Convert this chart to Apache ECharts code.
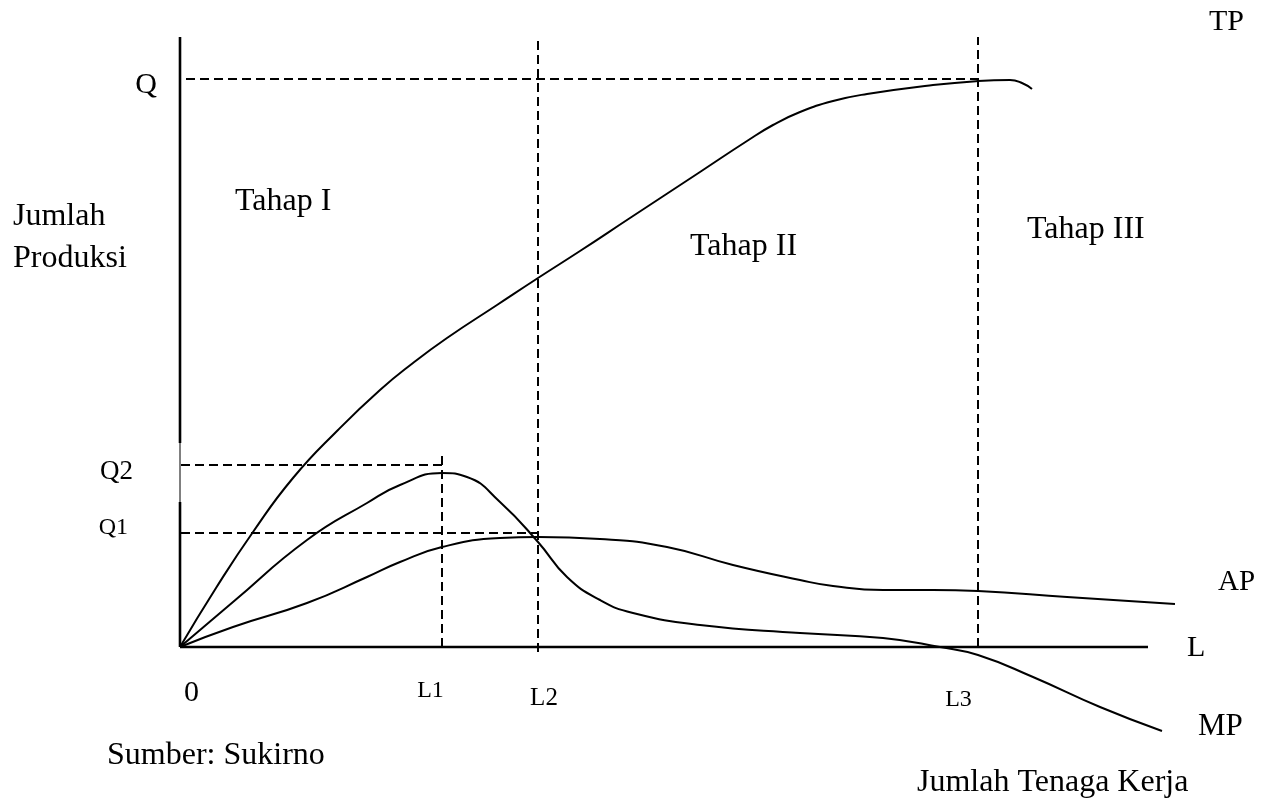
<!DOCTYPE html>
<html><head><meta charset="utf-8">
<script src="https://cdn.jsdelivr.net/npm/echarts@6/dist/echarts.min.js"></script>
<style>html,body{margin:0;padding:0;background:#fff}#c{width:1270px;height:802px}</style>
</head><body><div id="c"></div>
<script>
// ---- key levels (labour units on x, output units on y) ----
const L1 = 26.2, L2 = 35.8, L3 = 79.8;
const Q = 56.8, Q2 = 18.2, Q1 = 11.4;
const xAxisEnd = 96.8, yAxisTop = 61.0;

// ---- curves ----
const tpCurve = [[0,0],[3.6,5.9],[7.3,11.5],[11.3,16.9],[15.8,21.7],[20.0,25.7],[23.3,28.4],[26.7,30.9],[31.7,34.2],[35.8,36.9],[40.0,39.6],[45.0,42.9],[52.0,47.5],[56.7,50.6],[59.3,52.2],[62.0,53.5],[65.3,54.6],[68.7,55.3],[75.3,56.2],[79.8,56.6],[83.0,56.7],[84.2,56.4],[85.2,55.8]];
const mpCurve = [[0,0],[5.3,4.5],[12.7,10.7],[18.7,14.4],[22.0,16.2],[26.2,17.4],[28.7,17.0],[32.0,14.5],[35.8,10.5],[38.7,7.0],[42.0,4.7],[45.3,3.4],[52.0,2.2],[62.0,1.4],[70.3,0.9],[76.0,0],[79.8,-0.8],[85.3,-3.0],[92.0,-6.0],[98.2,-8.4]];
const apCurve = [[0,0],[5.3,2.0],[12.7,4.4],[18.7,7.0],[22.0,8.5],[26.2,10.0],[32.0,10.9],[35.8,11.0],[42.0,10.8],[48.7,10.0],[55.3,8.2],[62.0,6.7],[65.3,6.1],[70.3,5.7],[75.3,5.7],[79.8,5.6],[88.7,5.0],[99.5,4.3]];

// ---- tick labels ----
const yTickLabels = ['Q', 'Q2', 'Q1'];
const yTickValues = [Q, Q2, Q1];
const xTickLabels = ['0', 'L1', 'L2', 'L3'];
const xTickValues = [0, L1, L2, L3];

// ---- other texts ----
const curveNames = ['TP', 'AP', 'MP', 'L'];
const stageNames = ['Tahap I', 'Tahap II', 'Tahap III'];
const yTitle = ['Jumlah', 'Produksi'];
const xTitle = 'Jumlah Tenaga Kerja';
const sourceNote = 'Sumber: Sukirno';

// ---- build ----
const FONT = '"Liberation Serif","Times New Roman",serif';
const chart = echarts.init(document.getElementById('c'), null, {renderer: 'canvas'});

const dash = [9, 5];
function lineSeries(data, opts) {
  return Object.assign({
    type: 'line', data: data, symbol: 'none', showSymbol: false, clip: false,
    silent: true, animation: false, z: 3,
    lineStyle: {color: '#000', width: 2}
  }, opts || {});
}

const xAxisLine = [[0, 0], [xAxisEnd, 0]];
const yAxisLow = [[0, 0], [0, 14.5]];
const yAxisThin = [[0, 14.5], [0, 20.4]];
const yAxisHigh = [[0, 20.4], [0, yAxisTop]];

const series = [
  lineSeries(xAxisLine, {lineStyle: {color: '#000', width: 2.6}}),
  lineSeries(yAxisLow, {lineStyle: {color: '#000', width: 2.6}}),
  lineSeries(yAxisThin, {lineStyle: {color: '#000', width: 1}}),
  lineSeries(yAxisHigh, {lineStyle: {color: '#000', width: 2.6}}),
  lineSeries([[0.6, Q], [L3, Q]], {lineStyle: {color: '#000', width: 2, type: dash}}),
  lineSeries([[0.1, Q2], [L1, Q2]], {lineStyle: {color: '#000', width: 2, type: dash}}),
  lineSeries([[0.1, Q1], [L2, Q1]], {lineStyle: {color: '#000', width: 2, type: dash}}),
  lineSeries([[L1, 0], [L1, 19.2]], {lineStyle: {color: '#000', width: 2, type: dash}}),
  lineSeries([[L2, -0.5], [L2, 60.7]], {lineStyle: {color: '#000', width: 2, type: dash}}),
  lineSeries([[L3, 0], [L3, yAxisTop]], {lineStyle: {color: '#000', width: 2, type: dash}}),
  lineSeries(tpCurve, {smooth: 0.5}),
  lineSeries(mpCurve, {smooth: 0.5}),
  lineSeries(apCurve, {smooth: 0.5})
];

chart.setOption({
  backgroundColor: '#fff',
  animation: false,
  grid: {left: 180, top: 37, width: 1000, height: 710},
  xAxis: {type: 'value', min: 0, max: 100, show: false},
  yAxis: {type: 'value', min: -10, max: 61, show: false},
  series: series
});

function txt(text, x, y, size, align) {
  return {type: 'text', x: x, y: y, silent: true, z: 10,
    style: {text: text, fill: '#000', fontSize: size, fontFamily: FONT,
      align: align || 'left', verticalAlign: 'middle'}};
}
function px(p) { return chart.convertToPixel({gridIndex: 0}, p); }

const g = [];
// y tick labels (right aligned left of axis)
const yOff = [[-23, 6, 30], [-47, 6.5, 27], [-52, -5, 24]];
yTickLabels.forEach(function (t, i) {
  const p = px([0, yTickValues[i]]);
  g.push(txt(t, p[0] + yOff[i][0], p[1] + yOff[i][1], yOff[i][2], 'right'));
});
// x tick labels (centered below)
const xOff = [[11.5, 46, 30], [-11.5, 43.5, 24], [6, 51.5, 25], [-19.5, 53, 24]];
xTickLabels.forEach(function (t, i) {
  const p = px([xTickValues[i], 0]);
  g.push(txt(t, p[0] + xOff[i][0], p[1] + xOff[i][1], xOff[i][2], 'center'));
});
// curve names
g.push(txt(curveNames[0], 1209, 22, 30));
g.push(txt(curveNames[1], 1218, 582.5, 29));
g.push(txt(curveNames[2], 1198, 727, 31));
g.push(txt(curveNames[3], 1187, 648, 30));
// stages
g.push(txt(stageNames[0], 235, 201.5, 32));
g.push(txt(stageNames[1], 690, 246.5, 32));
g.push(txt(stageNames[2], 1027, 229.5, 32));
// titles
g.push(txt(yTitle[0], 13, 217, 32));
g.push(txt(yTitle[1], 13, 259, 32));
g.push(txt(xTitle, 917, 782.5, 32));
g.push(txt(sourceNote, 107, 756, 32));

chart.setOption({graphic: g});
</script></body></html>
